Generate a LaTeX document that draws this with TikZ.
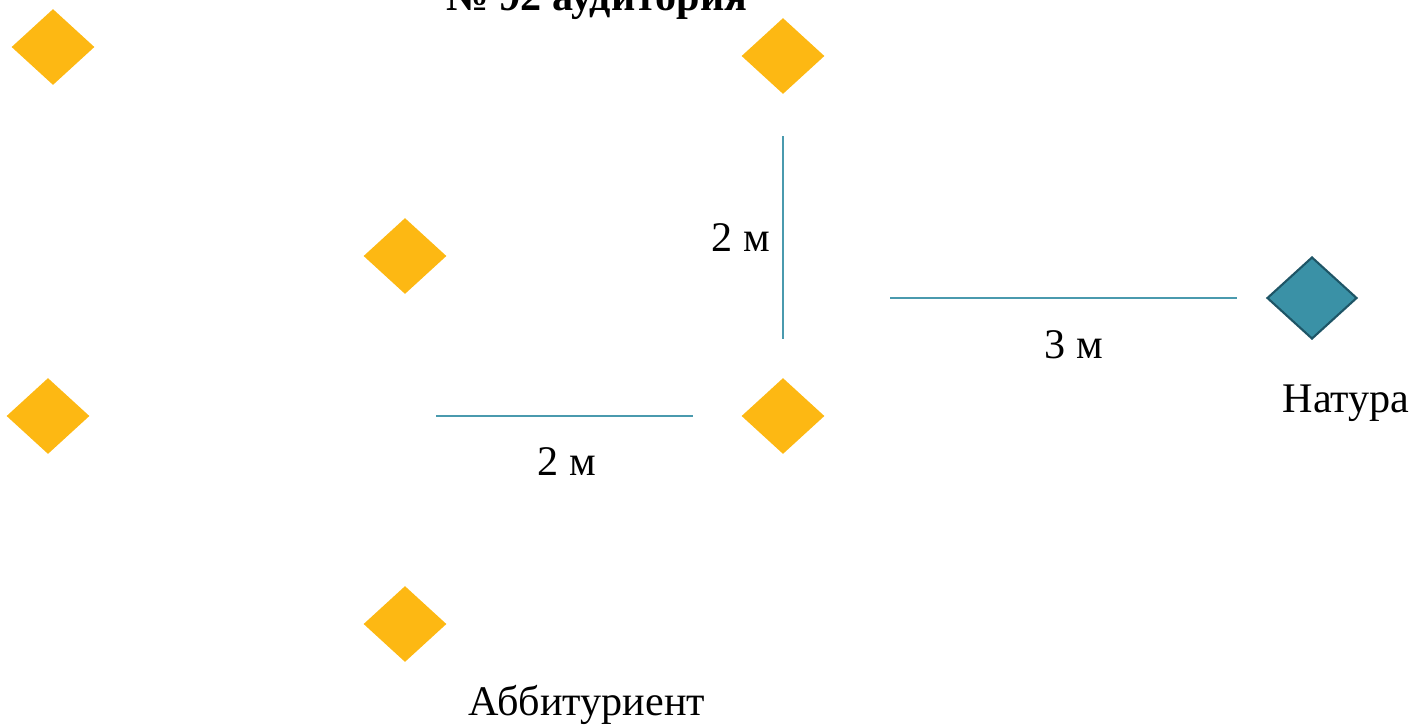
\documentclass[tikz,border=0pt]{standalone}
\usepackage{fontspec}
\setmainfont{Liberation Serif}
\usepackage{xcolor}
\usepackage{tikz}
\usetikzlibrary{shapes.geometric}
\definecolor{seatyellow}{HTML}{FDB813}
\definecolor{modelteal}{HTML}{3A91A6}
\definecolor{modeledge}{HTML}{1E5566}
\definecolor{dimline}{HTML}{4A9AAE}
\tikzstyle{seat} = [diamond, aspect=1.1, minimum width=1.66cm, minimum height=1.52cm, inner sep=0pt, fill=seatyellow]
\tikzstyle{model} = [diamond, aspect=1.1, minimum width=1.8cm, minimum height=1.64cm, inner sep=0pt, fill=modelteal, draw=modeledge, line width=1.2pt]
\tikzstyle{label} = [inner sep=0pt, font=\fontsize{24}{28}\selectfont]
\tikzstyle{dimension} = [draw=dimline, line width=0.9pt]

\begin{document}
\begin{tikzpicture}[x=0.02cm, y=-0.02cm]
		\useasboundingbox (0,0) rectangle (1414,725);
		\node (title) [label, anchor=base, font=\fontsize{24}{28}\selectfont\bfseries] at (597,10) {№ 92 аудитория};
		\node (s1) [seat] at (53,47) {};
		\node (s2) [seat] at (783,56) {};
		\node (s3) [seat] at (405,256) {};
		\node (s4) [seat] at (48,416) {};
		\node (s5) [seat] at (783,416) {};
		\node (s6) [seat] at (405,624) {};
		\node (nat) [model] at (1312,298) {};
		\coordinate (vtop) at (783,136);
		\coordinate (vbot) at (783,339);
		\coordinate (hrl) at (890,298);
		\coordinate (hrr) at (1237,298);
		\coordinate (hll) at (436,416);
		\coordinate (hlr) at (693,416);
		\draw [dimension] (vtop) -- (vbot);
		\draw [dimension] (hrl) -- (hrr);
		\draw [dimension] (hll) -- (hlr);
		\node (dv) [label] at (741,238) {2 м};
		\node (dr) [label] at (1074,345) {3 м};
		\node (dl) [label] at (567,462) {2 м};
		\node (natlbl) [label] at (1346,403) {Натура};
		\node (abit) [label] at (587,705) {Аббитуриент};
	\end{tikzpicture}
\end{document}
